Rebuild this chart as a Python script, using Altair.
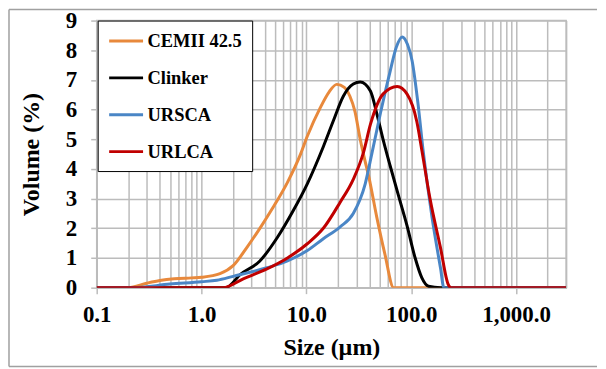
import altair as alt
import pandas as pd

series_names = ["CEMII 42.5", "Clinker", "URSCA", "URLCA"]
series_colors = ["#E8893C", "#000000", "#4A86C6", "#C00000"]

cem_size = [0.1, 0.2, 0.3, 0.4, 0.55, 0.8, 1.0, 1.5, 2.0, 2.7, 3.6, 4.8, 6.6, 8.8, 10.2,
            13.5, 16.5, 19.5, 23, 26, 29, 32.6, 35, 39.6, 47, 56, 68, 100, 1000, 3000]
cem_vol = [0, 0, 0.15, 0.24, 0.3, 0.33, 0.35, 0.47, 0.74, 1.35, 2.0, 2.7, 3.55, 4.5, 5.1,
           6.05, 6.6, 6.85, 6.75, 6.45, 5.95, 5.0, 4.5, 3.7, 2.36, 1.14, 0, 0, 0, 0]

clk_size = [0.1, 1.7, 2.35, 3.6, 5.3, 7.5, 10.2, 14.5, 18.2, 22.5, 28, 32.6, 40.8, 47, 54,
            63, 75.6, 91, 109, 126, 146, 190, 1000, 3000]
clk_vol = [0, 0, 0.45, 0.9, 1.7, 2.6, 3.5, 4.75, 5.65, 6.45, 6.86, 6.93, 6.63, 5.86, 4.98,
           4.1, 3.1, 2.1, 1.0, 0.34, 0.05, 0, 0, 0]

ursca_size = [0.1, 0.22, 0.5, 1.0, 1.4, 2.0, 4.2, 6.6, 10.2, 14.5, 21, 28, 36.4, 42, 50.7,
              63, 72, 82, 92, 102, 116, 130, 158, 190, 205, 1000, 3000]
ursca_vol = [0, 0, 0.12, 0.2, 0.25, 0.38, 0.67, 0.9, 1.25, 1.65, 2.05, 2.5, 3.5, 4.5, 5.86,
             7.3, 8.1, 8.45, 8.2, 7.64, 6.2, 4.6, 2.36, 0.67, 0, 0, 0]

urlca_size = [0.1, 1.6, 2.5, 4.2, 6.6, 10.2, 14.5, 21, 28, 35, 40.8, 54, 73.5, 91, 113,
              126, 151, 190, 224, 240, 1000, 3000]
urlca_vol = [0, 0, 0.3, 0.63, 1.0, 1.48, 2.0, 2.88, 3.65, 4.55, 5.5, 6.53, 6.78, 6.53, 5.6,
             4.65, 3.0, 1.35, 0.13, 0, 0, 0]

y_ticks = list(range(0, 10))
grid_sizes = [round(d * k, 4) for d in [0.1, 1, 10, 100, 1000] for k in range(1, 10) if d * k <= 3000]

rows = []
for name, xs, ys in zip(series_names,
                        [cem_size, clk_size, ursca_size, urlca_size],
                        [cem_vol, clk_vol, ursca_vol, urlca_vol]):
    for x, y in zip(xs, ys):
        rows.append({"series": name, "size": x, "volume": y})
df = pd.DataFrame(rows)

W, H = 471, 268
GRID = "#bcbcbc"
FONT = "Liberation Serif"
decade_test = "abs(log(datum.value)/LN10 - round(log(datum.value)/LN10)) < 0.01"

lines = alt.Chart(df).mark_line(strokeWidth=3, interpolate="monotone", clip=True).encode(
    x=alt.X("size:Q",
            scale=alt.Scale(type="log", domain=[0.1, 3000], nice=False),
            axis=alt.Axis(values=grid_sizes, title="Size (µm)",
                          labelExpr=decade_test + " ? format(datum.value, ',.1f') : ''",
                          labelOverlap=False, labelFlush=False,
                          tickOpacity={"condition": {"test": decade_test, "value": 1}, "value": 0},
                          tickSize=6, labelPadding=10, titlePadding=9)),
    y=alt.Y("volume:Q",
            scale=alt.Scale(domain=[0, 9], nice=False),
            axis=alt.Axis(values=y_ticks, title="Volume (%)", tickSize=6, labelFlush=False,
                          labelPadding=14, titlePadding=22)),
    color=alt.Color("series:N",
                    scale=alt.Scale(domain=series_names, range=series_colors),
                    legend=alt.Legend(title=None, orient="none", legendX=1, legendY=0,
                                      symbolType="M-1,0H2.78", symbolSize=324,
                                      symbolStrokeWidth=3, labelOffset=19,
                                      rowPadding=17, padding=10,
                                      fillColor="white", strokeColor="black",
                                      labelFont=FONT, labelFontWeight="bold",
                                      labelFontSize=18.5, labelColor="black")),
)

one = pd.DataFrame({"k": [0]})
BORDER = "#a0a0a0"
top_rule = alt.Chart(one).mark_rule(color=BORDER, strokeWidth=1.5).encode(
    x=alt.value(-88), x2=alt.value(502), y=alt.value(-11))
bottom_rule = alt.Chart(one).mark_rule(color=BORDER, strokeWidth=1.5).encode(
    x=alt.value(-88), x2=alt.value(502), y=alt.value(347))
left_rule = alt.Chart(one).mark_rule(color=BORDER, strokeWidth=1.5).encode(
    x=alt.value(-88), y=alt.value(-11), y2=alt.value(347))

chart = alt.layer(lines, top_rule, bottom_rule, left_rule).properties(
    width=W, height=H, padding=0, background="white"
).configure_view(
    stroke=GRID, strokeWidth=1.5
).configure_axis(
    grid=True, gridColor=GRID, gridWidth=1.5,
    domainColor=GRID, domainWidth=1.5, tickColor=GRID, tickWidth=1.5,
    labelFont=FONT, labelFontWeight="bold", labelFontSize=23, labelColor="black",
    titleFont=FONT, titleFontWeight="bold", titleFontSize=24, titleColor="black"
)

chart.save("out.html", embed_options={"renderer": "svg", "actions": False})
